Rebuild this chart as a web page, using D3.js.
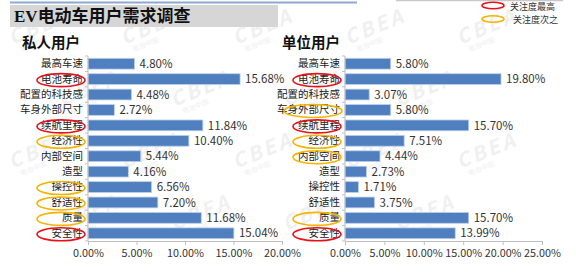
<!DOCTYPE html>
<html>
<head>
<meta charset="utf-8">
<script src="https://cdn.jsdelivr.net/npm/d3@7"></script>
<style>
  body { margin: 0; background: #fff; }
  svg { display: block; font-family: "Microsoft YaHei", "Noto Sans CJK SC", sans-serif; }
</style>
</head>
<body>
<svg id="chart" width="576" height="272"></svg>
<script>
var categories = ["最高车速", "电池寿命", "配置的科技感", "车身外部尺寸", "续航里程", "经济性",
  "内部空间", "造型", "操控性", "舒适性", "质量", "安全性"];
var privateValues = [4.80, 15.68, 4.48, 2.72, 11.84, 10.40, 5.44, 4.16, 6.56, 7.20, 11.68, 15.04];
var unitValues = [5.80, 19.80, 3.07, 5.80, 15.70, 7.51, 4.44, 2.73, 1.71, 3.75, 15.70, 13.99];
// r = 关注度最高, y = 关注度次之
var privateMarks = ["", "r", "", "", "r", "y", "", "", "y", "y", "y", "r"];
var unitMarks = ["", "r", "", "y", "r", "y", "y", "", "", "", "y", "r"];
var privateTicks = [0, 5, 10, 15, 20];
var unitTicks = [0, 5, 10, 15, 20, 25];
var legendLabels = ["关注度最高", "关注度次之"];

var markColor = { r: "#e8101a", y: "#f4b400" };
var svg = d3.select("#chart");

// faint watermark, kept inside the picture
var wm = svg.append("g").attr("class", "watermark");
for (var row = 0; row < 4; row++) {
  for (var col = 0; col < 5; col++) {
    var wx = 12 + col * 112 + (row % 2) * 50, wy = 45 + row * 62;
    if (wx > 495) continue;
    var g = wm.append("g").attr("transform", "translate(" + wx + "," + wy + ") rotate(-22)");
    g.append("text").text("CBEA").attr("font-size", 20).attr("font-weight", "bold")
      .attr("font-style", "italic").attr("letter-spacing", 3).attr("fill", "#f0f0f0");
    g.append("text").text("电池中国").attr("x", 6).attr("y", 10).attr("font-size", 7)
      .attr("fill", "#f0f0f0");
  }
}

// header
svg.append("line").attr("x1", 10).attr("x2", 357).attr("y1", 2.5).attr("y2", 2.5)
  .attr("stroke", "#8ea9d0").attr("stroke-width", 2);
svg.append("line").attr("x1", 396).attr("x2", 563).attr("y1", 0.5).attr("y2", 0.5)
  .attr("stroke", "#c8c8c8").attr("stroke-width", 1.5);
svg.append("rect").attr("x", 10).attr("y", 5).attr("width", 268).attr("height", 22)
  .attr("fill", "#d6d6d6");
var title = svg.append("text").attr("x", 14).attr("y", 22).attr("font-size", 17)
  .attr("font-weight", "bold").attr("fill", "#111");
title.append("tspan").text("EV").attr("font-family", "Liberation Serif, serif");
title.append("tspan").text("电动车用户需求调查");

// legend
legendLabels.forEach(function(t, i) {
  var c = i === 0 ? markColor.r : markColor.y;
  svg.append("ellipse").attr("cx", 493).attr("cy", 5.5 + i * 13.5).attr("rx", 11).attr("ry", 3.3)
    .attr("fill", "none").attr("stroke", c).attr("stroke-width", 1.6);
  svg.append("text").text(t).attr("x", 510 + i * 3).attr("y", 9.5 + i * 13.5)
    .attr("font-size", 9).attr("fill", "#333");
});

function panel(opt) {
  var g = svg.append("g");
  g.append("text").text(opt.title).attr("x", opt.titleX).attr("y", 48)
    .attr("font-size", 14.5).attr("font-weight", "bold").attr("fill", "#111");

  var x = d3.scaleLinear().domain([0, opt.max]).range([opt.x0, opt.x1]);
  var y = d3.scaleBand().domain(categories).range([56, 241]).paddingInner(0.3).paddingOuter(0.15);

  // bars
  g.selectAll("rect.bar").data(opt.values).enter().append("rect")
    .attr("class", "bar")
    .attr("x", x(0))
    .attr("y", function(d, i) { return y(categories[i]); })
    .attr("width", function(d) { return x(d) - x(0); })
    .attr("height", y.bandwidth())
    .attr("fill", "#4f7fbf")
    .attr("stroke", "#bcd0ea").attr("stroke-width", 0.8);

  // value labels
  g.selectAll("text.val").data(opt.values).enter().append("text")
    .attr("class", "val")
    .attr("x", function(d) { return x(d) + 5; })
    .attr("y", function(d, i) { return y(categories[i]) + y.bandwidth() / 2; })
    .attr("dy", "0.36em")
    .attr("font-size", 11.5).attr("fill", "#333")
    .text(function(d) { return d.toFixed(2) + "%"; });

  // category axis
  var yAxis = g.append("g").attr("transform", "translate(" + x(0) + ",0)")
    .call(d3.axisLeft(y).tickSize(0).tickPadding(5));
  yAxis.select(".domain").remove();
  yAxis.selectAll("text").attr("font-size", 10.5).attr("fill", "#222")
    .attr("font-family", "Microsoft YaHei, Noto Sans CJK SC, sans-serif");
  g.append("line").attr("x1", x(0)).attr("x2", x(0)).attr("y1", 56).attr("y2", 241)
    .attr("stroke", "#bfbfbf");
  var step = y.step();
  d3.range(categories.length + 1).forEach(function(i) {
    var yy = 56 + y.paddingOuter() * step - y.paddingInner() * step / 2 + i * step;
    g.append("line").attr("x1", x(0) - 3).attr("x2", x(0)).attr("y1", yy).attr("y2", yy)
      .attr("stroke", "#bfbfbf");
  });

  // value axis
  var xAxis = g.append("g").attr("transform", "translate(0,241)")
    .call(d3.axisBottom(x).tickValues(opt.ticks).tickSizeOuter(0).tickSize(4).tickPadding(4)
      .tickFormat(function(d) { return d.toFixed(2) + "%"; }));
  xAxis.select(".domain").attr("stroke", "#bfbfbf");
  xAxis.selectAll("line").attr("stroke", "#bfbfbf");
  xAxis.selectAll("text").attr("font-size", 10.8).attr("fill", "#333")
    .attr("font-family", "Microsoft YaHei, Noto Sans CJK SC, sans-serif");

  // highlight ellipses
  g.selectAll("ellipse.mark").data(opt.marks.map(function(m, i) { return { m: m, c: categories[i] }; })
      .filter(function(d) { return d.m; }))
    .enter().append("ellipse")
    .attr("class", "mark")
    .attr("cx", function(d) { return d.c === "车身外部尺寸" ? opt.ex - 4 : opt.ex; })
    .attr("cy", function(d) { return y(d.c) + y.bandwidth() / 2 + 1; })
    .attr("rx", function(d) { return d.c === "车身外部尺寸" ? 29 : 24; })
    .attr("ry", 6.5)
    .attr("fill", "none")
    .attr("stroke", function(d) { return markColor[d.m]; })
    .attr("stroke-width", 1.6);
}

panel({ title: "私人用户", titleX: 22, values: privateValues, marks: privateMarks,
  ticks: privateTicks, max: 20, x0: 88, x1: 282, ex: 61 });
panel({ title: "单位用户", titleX: 282, values: unitValues, marks: unitMarks,
  ticks: unitTicks, max: 25, x0: 345, x1: 542, ex: 317 });
</script>
</body>
</html>
